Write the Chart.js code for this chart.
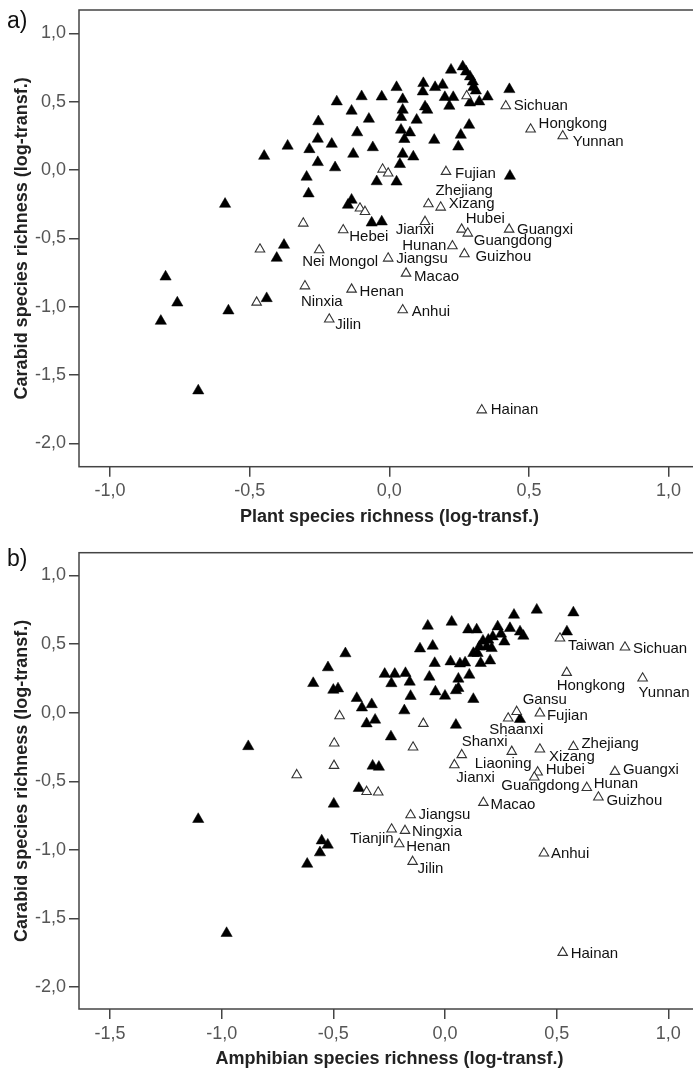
<!DOCTYPE html>
<html>
<head>
<meta charset="utf-8">
<script src="https://cdn.jsdelivr.net/npm/chart.js@4.4.0/dist/chart.umd.min.js"></script>
<style>
  html, body { margin: 0; padding: 0; background: #fff; overflow: hidden; }
  #wrap { position: relative; width: 693px; height: 1072px; overflow: hidden; }
  canvas { position: absolute; left: 0; }
  #chartA { top: 0; }
  #chartB { top: 540px; }
  .tag { position: absolute; left: 7px; font: 23px 'Liberation Sans', Arial, sans-serif; color: #111; }
</style>
</head>
<body>
<div id="wrap">
  <canvas id="chartA" width="710" height="540"></canvas>
  <canvas id="chartB" width="710" height="532"></canvas>
  <div class="tag" style="top:7px">a)</div>
  <div class="tag" style="top:545px">b)</div>
</div>
<script>
// ---- panel a: plant vs carabid richness ----
const plantFilledX = [-0.801, -0.759, -0.818, -0.684, -0.576, -0.439, -0.403, -0.377, -0.588, -0.448, -0.364, -0.286, -0.296, -0.289, -0.254, -0.256, -0.256, -0.206, -0.194, -0.188, -0.148, -0.135, -0.135, -0.129, -0.115, -0.099, -0.073, -0.059, -0.045, -0.063, -0.027, -0.027, 0.026, 0.026, 0.038, 0.042, 0.042, 0.048, 0.048, 0.048, 0.054, 0.074, 0.086, 0.098, 0.120, 0.122, 0.128, 0.136, 0.161, 0.164, 0.191, 0.199, 0.215, 0.221, 0.229, 0.247, 0.256, 0.263, 0.275, 0.286, 0.289, 0.289, 0.299, 0.301, 0.310, 0.322, 0.352, 0.430, 0.432];
const plantFilledY = [-0.781, -0.971, -1.105, -1.614, -1.029, -0.939, -0.644, -0.549, -0.249, 0.102, 0.176, 0.151, -0.051, -0.173, 0.355, 0.227, 0.056, 0.190, 0.018, 0.500, -0.256, -0.219, 0.432, 0.117, 0.274, 0.538, 0.373, 0.165, -0.084, -0.386, -0.378, 0.536, 0.605, -0.086, 0.042, 0.386, 0.293, 0.517, 0.439, 0.117, 0.225, 0.273, 0.097, 0.366, 0.573, 0.634, 0.463, 0.439, 0.219, 0.605, 0.622, 0.532, 0.468, 0.732, 0.532, 0.170, 0.256, 0.756, 0.719, 0.329, 0.683, 0.492, 0.646, 0.605, 0.580, 0.500, 0.536, 0.590, -0.044];

const plantOpenNames = ['Sichuan', 'Hongkong', 'Yunnan', 'Fujian', 'Zhejiang', 'Xizang', 'Jianxi', 'Hubei', 'Guangdong', 'Guangxi', 'Hunan', 'Guizhou', 'Jiangsu', 'Hebei', 'Nei Mongol', 'Macao', 'Henan', 'Ninxia', 'Anhui', 'Jilin', 'Hainan', '', '', '', '', '', '', '', ''];
const plantOpenX = [0.417, 0.506, 0.621, 0.203, 0.140, 0.184, 0.128, 0.259, 0.281, 0.429, 0.226, 0.269, -0.004, -0.165, -0.251, 0.060, -0.135, -0.302, 0.048, -0.215, 0.331, 0.277, -0.024, -0.004, -0.105, -0.087, -0.308, -0.463, -0.475];
const plantOpenY = [0.468, 0.298, 0.249, -0.012, -0.249, -0.273, -0.378, -0.434, -0.463, -0.434, -0.556, -0.614, -0.646, -0.439, -0.585, -0.756, -0.873, -0.849, -1.024, -1.092, -1.756, 0.541, 0.005, -0.024, -0.280, -0.305, -0.390, -0.580, -0.968];

// ---- panel b: amphibian vs carabid richness ----
const amphFilledX = [-1.105, -0.978, -0.498, -0.552, -0.525, -0.560, -0.617, -0.881, -0.446, -0.524, -0.590, -0.500, -0.479, -0.395, -0.372, -0.328, -0.351, -0.313, -0.242, -0.324, -0.296, -0.386, -0.270, -0.225, -0.177, -0.240, -0.158, -0.070, -0.182, -0.154, -0.077, 0.030, 0.104, 0.142, -0.112, -0.055, -0.046, 0.025, 0.067, 0.090, 0.127, 0.146, 0.160, 0.202, 0.109, 0.060, 0.060, 0.049, -0.043, 0.000, 0.127, 0.049, 0.170, 0.154, 0.187, 0.194, 0.214, 0.209, 0.236, 0.251, 0.266, 0.291, 0.309, 0.336, 0.351, 0.411, 0.575, 0.546, 0.336];
const amphFilledY = [-0.777, -1.608, -0.665, -0.933, -0.964, -1.020, -1.103, -0.246, 0.431, 0.329, 0.214, 0.165, 0.175, 0.105, 0.036, 0.060, -0.080, -0.053, -0.175, -0.388, -0.396, -0.551, 0.281, 0.281, 0.287, 0.213, 0.224, 0.260, 0.015, 0.120, 0.632, 0.661, 0.605, 0.605, 0.466, 0.486, 0.360, 0.372, 0.357, 0.364, 0.433, 0.433, 0.360, 0.379, 0.275, 0.246, 0.178, 0.162, 0.153, 0.122, 0.098, -0.090, 0.523, 0.481, 0.481, 0.530, 0.554, 0.469, 0.627, 0.574, 0.517, 0.615, 0.712, 0.590, 0.559, 0.749, 0.729, 0.590, -0.048];

const amphOpenNames = ['Taiwan', 'Sichuan', 'Hongkong', 'Yunnan', 'Gansu', 'Shaanxi', 'Fujian', 'Zhejiang', 'Xizang', 'Shanxi', 'Liaoning', 'Jianxi', 'Hubei', 'Guangdong', 'Guangxi', 'Hunan', 'Guizhou', 'Macao', 'Jiangsu', 'Ningxia', 'Tianjin', 'Henan', 'Jilin', 'Anhui', 'Hainan', '', '', '', '', '', '', '', ''];
const amphOpenX = [0.515, 0.806, 0.545, 0.885, 0.321, 0.283, 0.425, 0.575, 0.425, 0.075, 0.299, 0.042, 0.415, 0.400, 0.761, 0.635, 0.687, 0.172, -0.154, -0.179, -0.239, -0.205, -0.145, 0.443, 0.527, -0.472, -0.097, -0.496, -0.143, -0.497, -0.664, -0.351, -0.299];
const amphOpenY = [0.542, 0.477, 0.292, 0.251, 0.007, -0.041, -0.004, -0.248, -0.267, -0.308, -0.284, -0.381, -0.434, -0.471, -0.430, -0.547, -0.617, -0.656, -0.746, -0.860, -0.850, -0.957, -1.086, -1.025, -1.749, -0.024, -0.080, -0.223, -0.252, -0.386, -0.454, -0.576, -0.580];

// tick values
const plantTicks = [-1, -0.5, 0, 0.5, 1];
const amphTicks = [-1.5, -1, -0.5, 0, 0.5, 1];
const carabidTicks = [-2, -1.5, -1, -0.5, 0, 0.5, 1];

// where each province name sits relative to its triangle (px), optional alignment
const plantLabelPos = {
  Sichuan: [8, 0], Hongkong: [8, -5], Yunnan: [10, 6], Fujian: [9, 2], Zhejiang: [7, -13],
  Xizang: [8, -3], Hubei: [4, -11], Jianxi: [9, 8, 'right'], Guangxi: [8, 0], Guangdong: [6, 8],
  Hunan: [-6, 0, 'right'], Guizhou: [11, 3], Jiangsu: [8, 1], Hebei: [6, 7], 'Nei Mongol': [-17, 12],
  Macao: [8, 3], Henan: [8, 2], Anhui: [9, 2], Hainan: [9, 0], Jilin: [6, 6], Ninxia: [-4, 16]
};
const amphLabelPos = {
  Taiwan: [8, 8], Sichuan: [8, 2], Hongkong: [-10, 13], Yunnan: [-4, 15], Gansu: [6, -12],
  Shaanxi: [-19, 12], Fujian: [7, 3], Zhejiang: [8, -3], Xizang: [9, 8], Shanxi: [0, -13],
  Liaoning: [-37, 12], Jianxi: [2, 13], Hubei: [8, -2], Guangdong: [-33, 9], Guangxi: [8, -2],
  Hunan: [7, -4], Guizhou: [8, 4], Macao: [7, 2], Jiangsu: [8, 0], Ningxia: [7, 1],
  Tianjin: [2, 10, 'right'], Henan: [7, 3], Jilin: [5, 7], Anhui: [7, 1], Hainan: [8, 1]
};

const FONT = "'Liberation Sans', Arial, sans-serif";
const fmt = v => v.toFixed(1).replace('.', ',');
const toPoints = (xs, ys) => xs.map((x, i) => ({ x: x, y: ys[i] }));

// box around the plot area
const frame = {
  id: 'frame',
  beforeDatasetsDraw(chart) {
    const { ctx, chartArea: a } = chart;
    ctx.save();
    ctx.strokeStyle = '#444';
    ctx.lineWidth = 1.5;
    ctx.strokeRect(a.left, a.top, a.right - a.left, a.bottom - a.top);
    ctx.restore();
  }
};

// province names next to the open triangles
const pointLabels = {
  id: 'pointLabels',
  afterDatasetsDraw(chart, args, opts) {
    const { ctx } = chart;
    const ds = chart.data.datasets[0];
    const meta = chart.getDatasetMeta(0);
    ctx.save();
    ctx.font = '15px ' + FONT;
    ctx.fillStyle = '#111';
    ctx.textBaseline = 'middle';
    ds.names.forEach((name, i) => {
      if (!name) return;
      const pos = opts.offsets[name] || [8, 0];
      const pt = meta.data[i];
      ctx.textAlign = pos[2] || 'left';
      ctx.fillText(name, pt.x + pos[0], pt.y + pos[1]);
    });
    ctx.restore();
  }
};

function scatterPanel(id, p) {
  return new Chart(document.getElementById(id), {
    type: 'scatter',
    data: {
      datasets: [
        {
          label: 'open',
          names: p.openNames,
          data: toPoints(p.openX, p.openY),
          pointStyle: 'triangle',
          pointRadius: 5.5,
          pointBackgroundColor: '#fff',
          pointBorderColor: '#333',
          pointBorderWidth: 1.1
        },
        {
          label: 'filled',
          data: toPoints(p.filledX, p.filledY),
          pointStyle: 'triangle',
          pointRadius: 6.5,
          pointBackgroundColor: '#000',
          pointBorderColor: '#000',
          pointBorderWidth: 0.5
        }
      ]
    },
    options: {
      responsive: false,
      animation: false,
      events: [],
      layout: { padding: { top: p.top, right: 10, left: 0, bottom: 0 } },
      plugins: {
        legend: { display: false },
        tooltip: { enabled: false },
        pointLabels: { offsets: p.offsets }
      },
      scales: {
        x: {
          type: 'linear',
          min: p.xMin,
          max: p.xMax,
          afterBuildTicks: s => { s.ticks = p.xTicks.map(v => ({ value: v })); },
          afterFit: s => { s.height = p.xHeight; s.paddingLeft = 0; s.paddingRight = 0; },
          grid: { drawOnChartArea: false, drawTicks: true, tickLength: 10, color: '#444', lineWidth: 1.5 },
          border: { display: false },
          ticks: { padding: 4, color: '#555', font: { family: FONT, size: 18 }, callback: fmt },
          title: {
            display: true,
            text: p.xTitle,
            color: '#222',
            font: { family: FONT, size: 18, weight: 'bold' },
            padding: { top: 0, bottom: p.titlePad }
          }
        },
        y: {
          type: 'linear',
          min: p.yMin,
          max: p.yMax,
          afterBuildTicks: s => { s.ticks = carabidTicks.map(v => ({ value: v })); },
          afterFit: s => { s.width = 79; s.paddingTop = 0; s.paddingBottom = 0; },
          grid: { drawOnChartArea: false, drawTicks: true, tickLength: 10, color: '#444', lineWidth: 1.5 },
          border: { display: false },
          ticks: { padding: 3, color: '#555', font: { family: FONT, size: 18 }, callback: fmt },
          title: {
            display: true,
            text: 'Carabid species richness (log-transf.)',
            color: '#222',
            font: { family: FONT, size: 18, weight: 'bold' },
            padding: { top: 11, bottom: 0 }
          }
        }
      }
    },
    plugins: [frame, pointLabels]
  });
}

scatterPanel('chartA', {
  filledX: plantFilledX, filledY: plantFilledY,
  openNames: plantOpenNames, openX: plantOpenX, openY: plantOpenY,
  offsets: plantLabelPos,
  xTicks: plantTicks,
  xMin: -1.111, xMax: 1.1125, yMin: -2.170, yMax: 1.1705,
  top: 10, xHeight: 73.3, titlePad: 12.5,
  xTitle: 'Plant species richness (log-transf.)'
});

scatterPanel('chartB', {
  filledX: amphFilledX, filledY: amphFilledY,
  openNames: amphOpenNames, openX: amphOpenX, openY: amphOpenY,
  offsets: amphLabelPos,
  xTicks: amphTicks,
  xMin: -1.639, xMax: 1.142, yMin: -2.160, yMax: 1.166,
  top: 12.7, xHeight: 63, titlePad: 2.2,
  xTitle: 'Amphibian species richness (log-transf.)'
});
</script>
</body>
</html>
